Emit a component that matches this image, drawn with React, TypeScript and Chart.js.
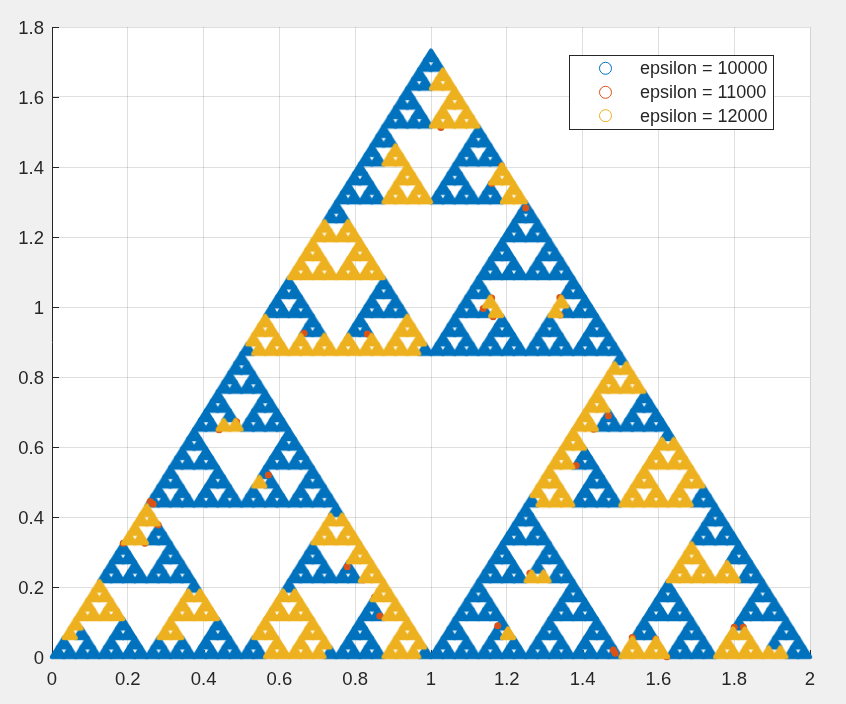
import React, { useEffect, useRef } from "react";
import { Chart, registerables } from "chart.js";

Chart.register(...registerables);

const seriesLabels = ["epsilon = 10000", "epsilon = 11000", "epsilon = 12000"];
const xTickLabels = ["0", "0.2", "0.4", "0.6", "0.8", "1", "1.2", "1.4", "1.6", "1.8", "2"];
const yTickLabels = ["0", "0.2", "0.4", "0.6", "0.8", "1", "1.2", "1.4", "1.6", "1.8"];

// Filled cells of the figure, read row by row from the apex down.
const filledRows = [
  "#",
  "##",
  "#.#",
  "####",
  "#...#",
  "##..##",
  "#.#.#.#",
  "########",
  "#.......#",
  "##......##",
  "#.#.....#.#",
  "####....####",
  "#...#...#...#",
  "##..##..##..##",
  "#.#.#.#.#.#.#.#",
  "################",
  "#...............#",
  "##..............##",
  "#.#.............#.#",
  "####............####",
  "#...#...........#...#",
  "##..##..........##..##",
  "#.#.#.#.........#.#.#.#",
  "########........########",
  "#.......#.......#.......#",
  "##......##......##......##",
  "#.#.....#.#.....#.#.....#.#",
  "####....####....####....####",
  "#...#...#...#...#...#...#...#",
  "##..##..##..##..##..##..##..##",
  "#.#.#.#.#.#.#.#.#.#.#.#.#.#.#.#",
  "################################",
  "#...............................#",
  "##..............................##",
  "#.#.............................#.#",
  "####............................####",
  "#...#...........................#...#",
  "##..##..........................##..##",
  "#.#.#.#.........................#.#.#.#",
  "########........................########",
  "#.......#.......................#.......#",
  "##......##......................##......##",
  "#.#.....#.#.....................#.#.....#.#",
  "####....####....................####....####",
  "#...#...#...#...................#...#...#...#",
  "##..##..##..##..................##..##..##..##",
  "#.#.#.#.#.#.#.#.................#.#.#.#.#.#.#.#",
  "################................################",
  "#...............#...............#...............#",
  "##..............##..............##..............##",
  "#.#.............#.#.............#.#.............#.#",
  "####............####............####............####",
  "#...#...........#...#...........#...#...........#...#",
  "##..##..........##..##..........##..##..........##..##",
  "#.#.#.#.........#.#.#.#.........#.#.#.#.........#.#.#.#",
  "########........########........########........########",
  "#.......#.......#.......#.......#.......#.......#.......#",
  "##......##......##......##......##......##......##......##",
  "#.#.....#.#.....#.#.....#.#.....#.#.....#.#.....#.#.....#.#",
  "####....####....####....####....####....####....####....####",
  "#...#...#...#...#...#...#...#...#...#...#...#...#...#...#...#",
  "##..##..##..##..##..##..##..##..##..##..##..##..##..##..##..##",
  "#.#.#.#.#.#.#.#.#.#.#.#.#.#.#.#.#.#.#.#.#.#.#.#.#.#.#.#.#.#.#.#",
  "################################################################",
];

// Columns of each row above that belong to the epsilon = 12000 series.
const yellowCols = [
  [], [], [2], [2, 3], [4], [4, 5], [4, 6], [4, 5, 6, 7],
  [], [], [2], [2, 3], [4, 12], [4, 5, 12, 13], [4, 6, 14], [4, 5, 6, 7, 14, 15],
  [], [], [0, 2], [0, 1, 2, 3], [0, 4], [0, 1, 4, 5], [0, 2, 4, 6], [0, 1, 2, 3, 4, 5, 6, 7],
  [], [], [18, 24], [19, 24], [0, 12], [0, 1, 12, 13], [0, 2, 4, 6, 8, 10, 12, 14],
  [1, 2, 3, 4, 5, 6, 7, 8, 9, 10, 11, 12, 13, 14],
  [], [32, 33], [32, 34], [32, 33, 34, 35], [32], [32, 33], [32], [2, 3, 32, 33],
  [32], [32, 33, 40, 41], [32, 40, 42], [32, 33, 40, 41, 42, 43],
  [32, 40, 44], [8, 32, 33, 40, 41, 44, 45], [32, 34, 40, 42, 44],
  [33, 34, 35, 40, 41, 42, 43, 44, 45],
  [0], [0, 1, 16, 17], [0, 16, 18], [0, 1, 16, 17, 18, 19],
  [20, 48], [20, 21, 48, 49], [22, 48, 50, 52], [22, 23, 36, 37, 48, 49, 50, 51, 52, 53],
  [0, 24], [0, 1, 8, 9, 16, 17, 24, 25], [0, 2, 8, 10, 16, 18, 26],
  [0, 1, 2, 3, 8, 9, 10, 11, 16, 17, 18, 19, 26, 27],
  [0, 8, 16, 20, 28], [0, 8, 9, 16, 17, 20, 21, 28, 29, 37, 56, 57],
  [18, 20, 22, 28, 30, 48, 50, 56, 58],
  [18, 19, 20, 21, 22, 28, 29, 30, 48, 49, 50, 51, 56, 57, 58, 59, 60, 61],
];

// epsilon = 11000 points, read from the small orange patches.
const redX = [1.015, 1.026, 1.186, 1.16, 1.25, 0.665, 0.72, 0.779, 0.832, 1.16, 1.164, 1.138, 1.34, 1.34, 0.487, 0.441, 0.571, 0.259, 0.267, 0.188, 0.245, 0.28, 0.171, 0.162, 0.779, 0.821, 0.851, 0.865, 1.468, 1.429, 1.398, 1.383, 1.261, 1.176, 1.486, 1.481, 1.593, 1.531, 1.622, 1.8, 1.824];
const redY = [1.531, 1.513, 1.403, 1.353, 1.283, 0.925, 0.908, 0.908, 0.923, 1.026, 0.972, 0.996, 0.977, 1.027, 0.672, 0.649, 0.52, 0.444, 0.437, 0.325, 0.325, 0.377, 0.129, 0.113, 0.258, 0.22, 0.171, 0.117, 0.689, 0.651, 0.601, 0.547, 0.239, 0.089, 0.011, 0.02, 0.051, 0.056, 0.001, 0.085, 0.085];

const BLUE = "#0072BD";
const RED = "#D95319";
const YELLOW = "#EDB120";
const INK = "#262626";
const FONT = "'Liberation Sans', Arial, sans-serif";

const CELL = 0.03125;
const APEX_Y = 1.7320508;
const ROW_H = CELL * 0.8660254;

const cellPoint = (row: number, col: number) => ({
  x: 1 + (col - row / 2) * CELL,
  y: APEX_Y - (row + 2 / 3) * ROW_H,
});

const bluePoints: { x: number; y: number }[] = [];
const yellowPoints: { x: number; y: number }[] = [];
filledRows.forEach((line, row) => {
  [...line].forEach((ch, col) => {
    if (ch !== "#") return;
    if (yellowCols[row].includes(col)) yellowPoints.push(cellPoint(row, col));
    else bluePoints.push(cellPoint(row, col));
  });
});
const redPoints = redX.map((x, i) => ({ x, y: redY[i] }));

function cellSprite(color: string): HTMLCanvasElement {
  const c = document.createElement("canvas");
  c.width = 24;
  c.height = 24;
  const g = c.getContext("2d")!;
  const w = 11.84;
  const h = 9.47;
  g.fillStyle = color;
  g.strokeStyle = color;
  g.lineJoin = "round";
  g.lineWidth = 4.4;
  g.beginPath();
  g.moveTo(12, 12 - (2 / 3) * h);
  g.lineTo(12 + w / 2, 12 + h / 3);
  g.lineTo(12 - w / 2, 12 + h / 3);
  g.closePath();
  g.fill();
  g.stroke();
  return c;
}

const framePlugin = {
  id: "frame",
  beforeDraw(chart: any) {
    const { ctx, chartArea: a } = chart;
    ctx.save();
    ctx.fillStyle = "#ffffff";
    ctx.fillRect(a.left, a.top, a.right - a.left, a.bottom - a.top);
    ctx.restore();
  },
  beforeDatasetsDraw(chart: any) {
    const { ctx, chartArea: a, scales } = chart;
    ctx.save();
    ctx.strokeStyle = INK;
    ctx.lineWidth = 1;
    ctx.beginPath();
    scales.x.ticks.forEach((t: any) => {
      const p = Math.round(scales.x.getPixelForValue(t.value)) + 0.5;
      ctx.moveTo(p, a.bottom);
      ctx.lineTo(p, a.bottom - 7);
    });
    scales.y.ticks.forEach((t: any) => {
      const p = Math.round(scales.y.getPixelForValue(t.value)) + 0.5;
      ctx.moveTo(a.left, p);
      ctx.lineTo(a.left + 7, p);
    });
    ctx.stroke();
    ctx.restore();
  },
};

const legendPlugin = {
  id: "boxLegend",
  afterDraw(chart: any) {
    const { ctx } = chart;
    ctx.save();
    ctx.fillStyle = "#ffffff";
    ctx.strokeStyle = INK;
    ctx.lineWidth = 1;
    ctx.fillRect(569, 55, 204, 74);
    ctx.strokeRect(569.5, 55.5, 204, 74);
    const rows = [68.3, 92.3, 115.7];
    const colors = [BLUE, RED, YELLOW];
    ctx.font = `18px ${FONT}`;
    ctx.textBaseline = "middle";
    ctx.textAlign = "left";
    seriesLabels.forEach((label, i) => {
      ctx.beginPath();
      ctx.arc(605.5, rows[i], 6, 0, Math.PI * 2);
      ctx.strokeStyle = colors[i];
      ctx.lineWidth = 1;
      ctx.stroke();
      ctx.fillStyle = INK;
      ctx.fillText(label, 640, rows[i] + 1);
    });
    ctx.restore();
  },
};

export default function App() {
  const ref = useRef<HTMLCanvasElement | null>(null);
  useEffect(() => {
    const chart = new Chart(ref.current!, {
      type: "scatter",
      data: {
        datasets: [
          { label: seriesLabels[0], data: bluePoints, pointStyle: cellSprite(BLUE), order: 3, clip: false },
          { label: seriesLabels[1], data: redPoints, pointStyle: "circle", pointRadius: 3.5, backgroundColor: RED, borderColor: RED, borderWidth: 0, order: 2, clip: false },
          { label: seriesLabels[2], data: yellowPoints, pointStyle: cellSprite(YELLOW), order: 1, clip: false },
        ],
      } as any,
      options: {
        responsive: false,
        animation: false,
        devicePixelRatio: 1,
        layout: { padding: { top: 27, right: 36, left: 0, bottom: 0 } },
        plugins: { legend: { display: false }, tooltip: { enabled: false }, title: { display: false } },
        scales: {
          x: {
            type: "linear",
            min: 0,
            max: 2,
            afterFit: (s: any) => { s.height = 47; },
            grid: { color: "rgba(38,38,38,0.15)", drawTicks: false },
            border: { display: true, color: INK },
            ticks: {
              stepSize: 0.2,
              autoSkip: false,
              maxRotation: 0,
              padding: 12,
              color: INK,
              font: { family: FONT, size: 18.5 },
              callback: (_v: any, i: number) => xTickLabels[i],
            },
          },
          y: {
            type: "linear",
            min: 0,
            max: 1.8,
            afterFit: (s: any) => { s.width = 52; },
            grid: { color: "rgba(38,38,38,0.15)", drawTicks: false },
            border: { display: true, color: INK },
            ticks: {
              stepSize: 0.2,
              autoSkip: false,
              padding: 8,
              labelOffset: 2,
              color: INK,
              font: { family: FONT, size: 18.5 },
              callback: (_v: any, i: number) => yTickLabels[i],
            },
          },
        },
      } as any,
      plugins: [framePlugin, legendPlugin],
    });
    return () => chart.destroy();
  }, []);
  return (
    <div style={{ position: "fixed", left: 0, top: 0, width: 846, height: 704, background: "#f0f0f0" }}>
      <canvas ref={ref} width={846} height={704} style={{ display: "block" }} />
    </div>
  );
}
